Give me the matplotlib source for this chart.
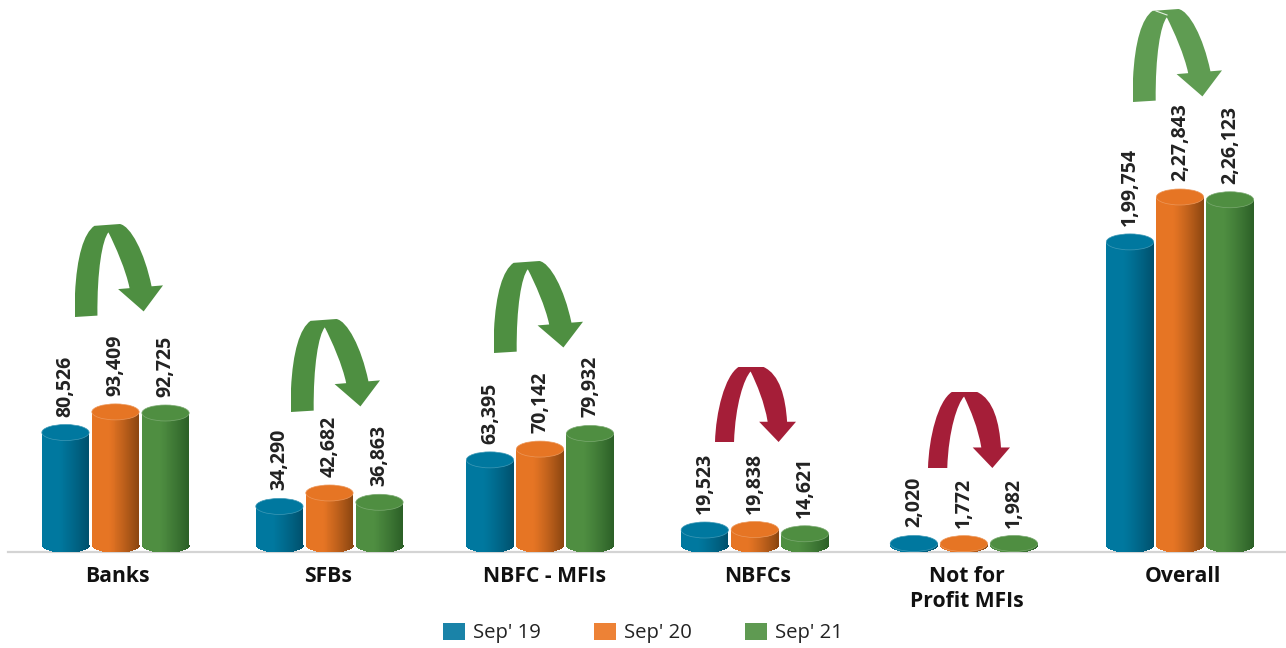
import matplotlib
matplotlib.use('Agg')
import matplotlib.pyplot as plt
import numpy as np
from matplotlib.patches import Ellipse, PathPatch, Patch, Rectangle
from matplotlib.path import Path
from matplotlib.transforms import IdentityTransform, Affine2D

categories = ['Banks', 'SFBs', 'NBFC - MFIs', 'NBFCs', 'Not for\nProfit MFIs', 'Overall']
sep_19 = [80526, 34290, 63395, 19523, 2020, 199754]
sep_20 = [93409, 42682, 70142, 19838, 1772, 227843]
sep_21 = [92725, 36863, 79932, 14621, 1982, 226123]
labels_19 = ['80,526', '34,290', '63,395', '19,523', '2,020', '1,99,754']
labels_20 = ['93,409', '42,682', '70,142', '19,838', '1,772', '2,27,843']
labels_21 = ['92,725', '36,863', '79,932', '14,621', '1,982', '2,26,123']
series_names = ["Sep' 19", "Sep' 20", "Sep' 21"]

series_colors = ['#00789f', '#e67524', '#4f8e41']
dark_colors = ['#00506c', '#8a4510', '#2b5f27']
legend_colors = ['#1a83a8', '#ed8236', '#5f9a52']
green = '#4e8f41'
light_green = '#5f9c52'
red = '#a51e38'

# the bars are not drawn to a straight scale, small values are squeezed
scale_values = [-60000, 0, 19523, 227843, 500000]
scale_pixels = [-40, 0, 15, 348, 783]

def to_pixels(v):
    return np.interp(v, scale_values, scale_pixels)

def to_values(p):
    return np.interp(p, scale_pixels, scale_values)

plt.rcParams['font.family'] = ['Open Sans', 'DejaVu Sans']

fig = plt.figure(figsize=(12.86, 6.48), dpi=100)
ax = fig.add_axes([0, 96 / 648, 1, 552 / 648])
ax.set_yscale('function', functions=(to_pixels, to_values))
ax.set_xlim(-0.5425, 5.498)
ax.set_ylim(to_values(-7), to_values(545))
ax.patch.set_alpha(0)

for s in ['top', 'left', 'right']:
    ax.spines[s].set_visible(False)
ax.spines['bottom'].set_color('#d4d4d4')
ax.spines['bottom'].set_linewidth(1.6)
ax.spines['bottom'].set_bounds(-0.505, 5.498)
ax.spines['bottom'].set_zorder(1)
ax.set_yticks([])
ax.set_yticks([], minor=True)

# the groups are not quite evenly spaced in the picture
group_x = [0, 1.005, 1.994, 3.003, 3.985, 5]
tick_x = [0.008, 1.0, 2.015, 3.015, 4.0, 5.012]
ax.set_xticks(tick_x)
ax.set_xticklabels(categories, fontsize=15.2, fontweight='bold', color='#111111', linespacing=1.25)
ax.tick_params(axis='x', length=0, pad=10)

bar_w = 0.222
offsets = [-0.235, 0, 0.235]
n_slices = 48
cap_h = 16

def mix(c1, c2, t):
    a = np.array(matplotlib.colors.to_rgb(c1))
    b = np.array(matplotlib.colors.to_rgb(c2))
    return tuple(a + (b - a) * t)

def draw_cylinder(x, v, color, dark, label):
    slice_w = bar_w / n_slices
    base_px = ax.transData.transform((x, 0))[1]
    top_px = ax.transData.transform((x, v))[1]
    cx = ax.transData.transform((x, 0))[0]
    w_px = bar_w * 212.9
    for i in range(n_slices):
        t = (i + 0.5) / n_slices
        # stays flat to about the middle, then gets darker to the right
        c = mix(color, dark, max(0, (t - 0.35) / 0.65) ** 1.2)
        sx = x - bar_w / 2 + i * slice_w
        ax.bar(sx, v, width=slice_w * 1.05, align='edge', color=c, linewidth=0, antialiased=False, zorder=2)
        # round bottom of the cylinder, below the zero line
        u = 2 * t - 1
        d = cap_h / 2 * np.sqrt(1 - u * u)
        ax.add_patch(Rectangle((cx - w_px / 2 + i * w_px / n_slices, base_px - d), w_px / n_slices + 0.5, d,
                               transform=IdentityTransform(), color=c, linewidth=0, zorder=2))
    ax.add_patch(Ellipse((cx, top_px), w_px, cap_h, transform=IdentityTransform(), facecolor=color,
                         edgecolor=mix(color, '#ffffff', 0.25), linewidth=0.5, zorder=3))
    ax.annotate(label, (x, v), xytext=(0, 11.5), textcoords='offset points', rotation=90, ha='center', va='bottom',
                fontsize=14, fontweight='bold', color='#222222', zorder=4)

all_values = [sep_19, sep_20, sep_21]
all_labels = [labels_19, labels_20, labels_21]
for s in range(3):
    for i in range(len(categories)):
        draw_cylinder(group_x[i] + offsets[s], all_values[s][i], series_colors[s], dark_colors[s], all_labels[s][i])

# arrow outlines, unit box with y going down
M, L, C, Z = Path.MOVETO, Path.LINETO, Path.CURVE4, Path.CLOSEPOLY
green_arrow = [
    (M, 0.0, 1.0), (L, 0.0, 0.75), (C, 0.02, 0.35), (C, 0.1, 0.1), (C, 0.22, 0.02), (L, 0.51, 0.0),
    (C, 0.63, 0.02), (C, 0.79, 0.3), (C, 0.87, 0.67), (L, 1.0, 0.66), (L, 0.78, 0.94), (L, 0.49, 0.70),
    (L, 0.62, 0.69), (C, 0.58, 0.5), (C, 0.46, 0.24), (C, 0.38, 0.09), (C, 0.31, 0.17), (C, 0.25, 0.5), (C, 0.255, 0.985),
    (Z, 0.0, 1.0),
]
red_arrow = [
    (M, 0.0, 1.0), (C, 0.01, 0.6), (C, 0.12, 0.12), (C, 0.29, 0.0), (L, 0.6, 0.0),
    (C, 0.8, 0.1), (C, 0.87, 0.4), (C, 0.89, 0.73), (L, 1.0, 0.73), (L, 0.785, 1.0), (L, 0.545, 0.73), (L, 0.65, 0.73),
    (C, 0.61, 0.47), (C, 0.52, 0.24), (C, 0.44, 0.06), (C, 0.36, 0.15), (C, 0.25, 0.5), (C, 0.235, 1.0),
    (Z, 0.0, 1.0),
]

def draw_arrow(shape, left, top, right, bottom, color):
    codes = [p[0] for p in shape]
    verts = [(p[1], p[2]) for p in shape]
    tr = Affine2D().scale(right - left, -(bottom - top)).translate(left, 648 - top)
    ax.add_patch(PathPatch(Path(verts, codes), facecolor=color, edgecolor='none', transform=tr, zorder=5))

draw_arrow(green_arrow, 75, 224, 163, 317, green)
draw_arrow(green_arrow, 291, 319, 380, 412, green)
draw_arrow(green_arrow, 494, 261, 583, 353, green)
draw_arrow(red_arrow, 715, 367, 796, 442, red)
draw_arrow(red_arrow, 928, 392, 1010, 468, red)
draw_arrow(green_arrow, 1133, 9, 1222, 102, light_green)
# small pale seam on top of the last arrow
ax.plot([1156, 1167], [648 - 11, 648 - 15], transform=IdentityTransform(), color='#e4efe0', lw=0.8, zorder=6)

handles = [Patch(facecolor=c, label=n) for c, n in zip(legend_colors, series_names)]
fig.legend(handles=handles, ncol=3, frameon=False, loc='center', bbox_to_anchor=(643 / 1286, 1 - 633 / 648),
           fontsize=14.6, handlelength=1.05, handleheight=0.9, handletextpad=0.4, columnspacing=2.65,
           labelcolor='#222222')

fig.savefig('out.png', dpi=100)
